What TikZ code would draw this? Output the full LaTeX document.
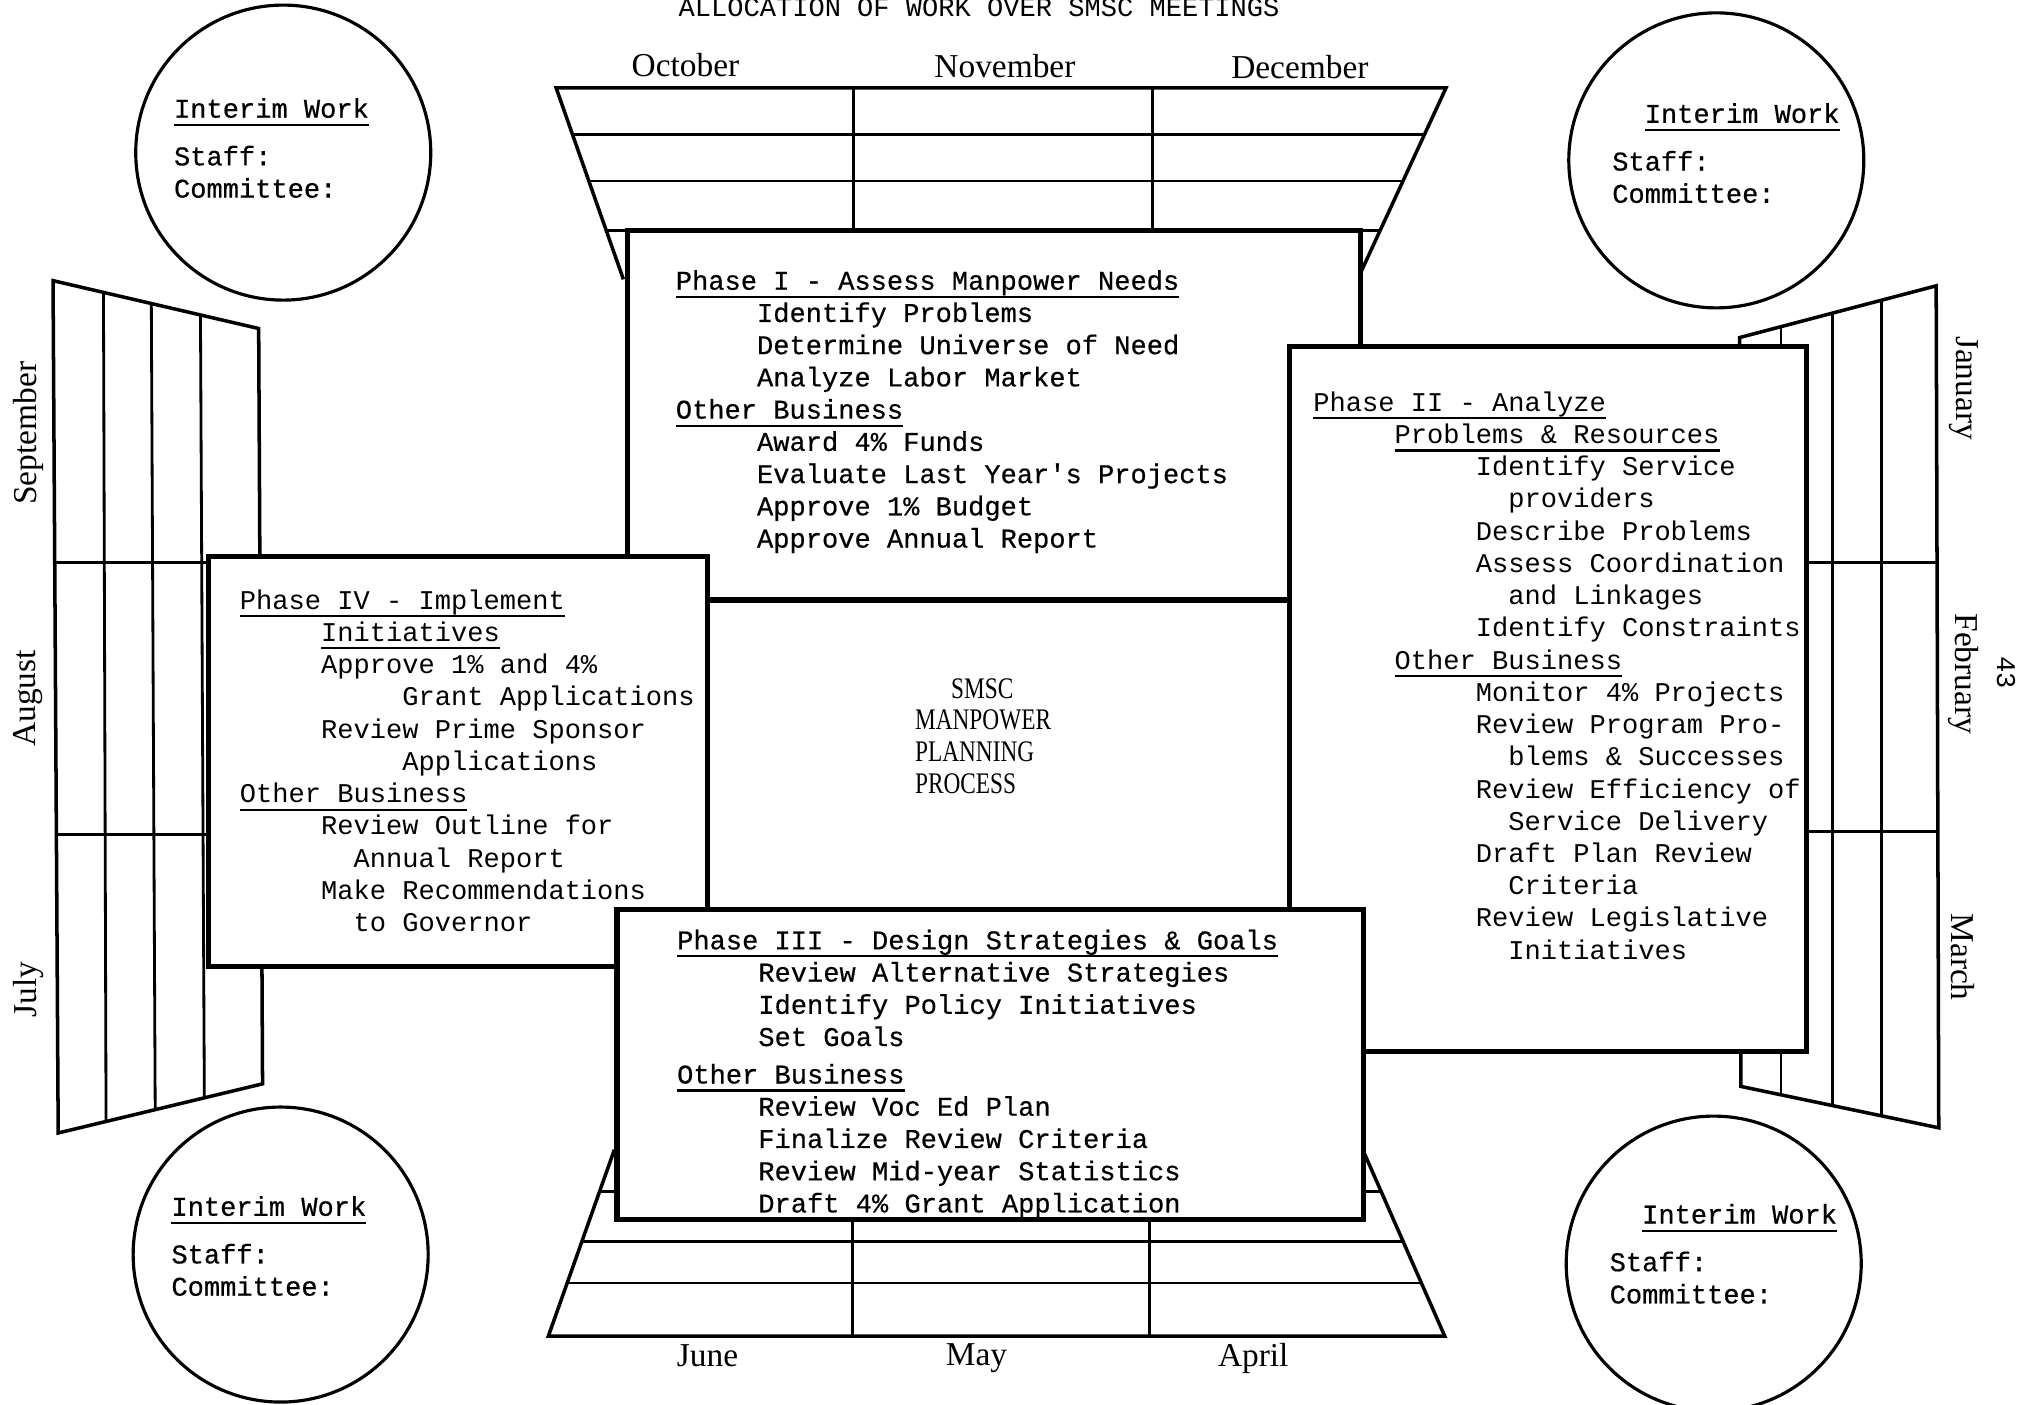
\documentclass[tikz,border=0pt]{standalone}
\usepackage{fontspec}
\usepackage{tikz}
\newfontfamily\typefont{Liberation Mono}
\newfontfamily\darktypefont[FakeBold=0.5]{Liberation Mono}
\newfontfamily\condfont[FakeStretch=0.78]{Liberation Serif}
\newfontfamily\monthfont{Liberation Serif}
\newcommand{\ind}[1]{\hspace*{#1\fontcharwd\font`M}}
\newcommand{\ulbar}[1]{\setbox0\hbox{#1}\rlap{\rule[-2.3pt]{\wd0}{0.6pt}}\box0}
\newcommand{\interim}[1]{\begin{tabular}[t]{@{}l@{}}\ind{#1}\ulbar{Interim Work}\\[4.4pt]Staff:\\Committee:\end{tabular}}

\tikzset{
  frame/.style={line width=1pt},
  grid/.style={line width=0.8pt},
  phasebox/.style={draw, fill=white, line width=1.5pt},
  ring/.style={circle, draw, line width=0.9pt, minimum size=29.5mm, inner sep=0pt},
  phasetext/.style={anchor=base west, inner sep=0pt, font=\typefont\fontsize{7.7}{9.17}\selectfont},
  darktext/.style={phasetext, font=\darktypefont\fontsize{7.7}{9.17}\selectfont},
  month/.style={inner sep=0pt, font=\monthfont\fontsize{9.5}{11}\selectfont}
}

\begin{document}
\begin{tikzpicture}[x=0.12934mm, y=-0.12934mm]
    \useasboundingbox (0,0) rectangle (1568,1086);

    \node[phasetext, anchor=base] (title) at (757,13) {ALLOCATION OF WORK OVER SMSC MEETINGS};

    % interim work circles
    \node[ring] (ringNW) at (219,118) {};
    \node[ring] (ringNE) at (1327,124) {};
    \node[ring] (ringSW) at (217,970) {};
    \node[ring] (ringSE) at (1325,977) {};

    % month frames
    \draw[frame] (482,216) -- (430,68) -- (1118,68) -- (1051,213);
    \draw[grid] (442.6,104) -- (1101.5,104);
    \draw[grid] (455.3,140) -- (1085,140);
    \draw[grid] (468.6,178) -- (1067.5,178);
    \draw[grid] (660,68) -- (660,178);
    \draw[grid] (891,68) -- (891,178);

    \draw[frame] (475,889) -- (424,1033) -- (1117,1033) -- (1055,892);
    \draw[grid] (463.7,921) -- (1067.7,921);
    \draw[grid] (449.9,960) -- (1085,960);
    \draw[grid] (438.5,992) -- (1099,992);
    \draw[grid] (659,943) -- (659,1033);
    \draw[grid] (889,943) -- (889,1033);

    \draw[frame] (41,217) -- (200,254) -- (203,838) -- (45,876) -- cycle;
    \draw[grid] (80,226) -- (82,867);
    \draw[grid] (117,235) -- (120,858);
    \draw[grid] (155,244) -- (158,849);
    \draw[grid] (42,435) -- (201,435);
    \draw[grid] (43,645) -- (202,645);

    \draw[frame] (1345,261) -- (1497,221) -- (1499,872) -- (1346,840) -- cycle;
    \draw[grid] (1377,252.6) -- (1377,846.5);
    \draw[grid] (1417,242) -- (1417,855);
    \draw[grid] (1455,232) -- (1455,863);
    \draw[grid] (1345,435) -- (1498,435);
    \draw[grid] (1345,643) -- (1498,643);

    % phase boxes, later ones on top
    \draw[phasebox] (485,178) rectangle (1052,464);
    \draw[phasebox] (997,268) rectangle (1397,813);
    \draw[phasebox] (161,430) rectangle (547,747);
    \draw[phasebox] (477,703) rectangle (1054,943);

    \node[month] (oct) at (530,50) {October};
    \node[month] (nov) at (777,51) {November};
    \node[month] (dec) at (1005,52) {December};
    \node[month] (jun) at (547,1048) {June};
    \node[month] (may) at (755,1050) {May};
    \node[month] (apr) at (969,1050) {April};
    \node[month, rotate=90] (sep) at (22,335) {September};
    \node[month, rotate=90] (aug) at (22,540) {August};
    \node[month, rotate=90] (jul) at (22,765) {July};
    \node[month, rotate=-90] (jan) at (1518,300) {January};
    \node[month, rotate=-90] (feb) at (1518,521) {February};
    \node[month, rotate=-90] (mar) at (1518,740) {March};
    \node[phasetext, anchor=center, rotate=-90] (page) at (1551,520) {43};

    \node[darktext] (iwNW) at (134,91) {\interim{0}};
    \node[darktext] (iwNE) at (1246,95) {\interim{2}};
    \node[darktext] (iwSW) at (132,940) {\interim{0}};
    \node[darktext] (iwSE) at (1244,946) {\interim{2}};

    \node[darktext] (phaseItext) at (522,224) {\begin{tabular}[t]{@{}l@{}}
        \ulbar{Phase I - Assess Manpower Needs}\\
        \ind{5}Identify Problems\\
        \ind{5}Determine Universe of Need\\
        \ind{5}Analyze Labor Market\\
        \ulbar{Other Business}\\
        \ind{5}Award 4\% Funds\\
        \ind{5}Evaluate Last Year's Projects\\
        \ind{5}Approve 1\% Budget\\
        \ind{5}Approve Annual Report
    \end{tabular}};

    \node[phasetext] (phaseIItext) at (1015,318) {\begin{tabular}[t]{@{}l@{}}
        \ulbar{Phase II - Analyze}\\
        \ind{5}\ulbar{Problems \& Resources}\\
        \ind{10}Identify Service\\
        \ind{12}providers\\
        \ind{10}Describe Problems\\
        \ind{10}Assess Coordination\\
        \ind{12}and Linkages\\
        \ind{10}Identify Constraints\\
        \ind{5}\ulbar{Other Business}\\
        \ind{10}Monitor 4\% Projects\\
        \ind{10}Review Program Pro-\\
        \ind{12}blems \& Successes\\
        \ind{10}Review Efficiency of\\
        \ind{12}Service Delivery\\
        \ind{10}Draft Plan Review\\
        \ind{12}Criteria\\
        \ind{10}Review Legislative\\
        \ind{12}Initiatives
    \end{tabular}};

    \node[phasetext] (phaseIVtext) at (185,471) {\begin{tabular}[t]{@{}l@{}}
        \ulbar{Phase IV - Implement}\\
        \ind{5}\ulbar{Initiatives}\\
        \ind{5}Approve 1\% and 4\%\\
        \ind{10}Grant Applications\\
        \ind{5}Review Prime Sponsor\\
        \ind{10}Applications\\
        \ulbar{Other Business}\\
        \ind{5}Review Outline for\\
        \ind{7}Annual Report\\
        \ind{5}Make Recommendations\\
        \ind{7}to Governor
    \end{tabular}};

    \node[darktext] (phaseIIItext) at (523,734) {\begin{tabular}[t]{@{}l@{}}
        \ulbar{Phase III - Design Strategies \& Goals}\\
        \ind{5}Review Alternative Strategies\\
        \ind{5}Identify Policy Initiatives\\
        \ind{5}Set Goals\\[1.5pt]
        \ulbar{Other Business}\\
        \ind{5}Review Voc Ed Plan\\
        \ind{5}Finalize Review Criteria\\
        \ind{5}Review Mid-year Statistics\\
        \ind{5}Draft 4\% Grant Application
    \end{tabular}};

    \node[font=\condfont\fontsize{8.5}{9}\selectfont, align=left, anchor=west, inner sep=0pt] (smsc) at (707,569) {\hspace*{3.6mm}SMSC\\MANPOWER\\PLANNING\\PROCESS};
\end{tikzpicture}
\end{document}
